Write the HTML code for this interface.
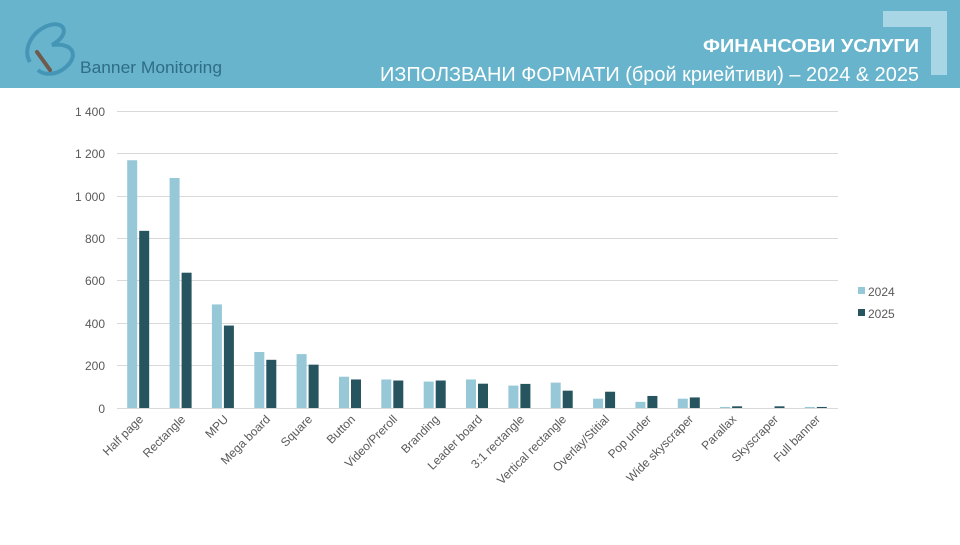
<!DOCTYPE html>
<html><head><meta charset="utf-8"><style>
body{margin:0;width:960px;height:540px;overflow:hidden;background:#fff;font-family:"Liberation Sans",sans-serif}
</style></head><body>
<svg width="960" height="540" xmlns="http://www.w3.org/2000/svg" font-family="Liberation Sans, sans-serif">
<rect x="0" y="0" width="960" height="88" fill="#67b4cc"/>
<path d="M883 11 H947 V75 H931 V27 H883 Z" fill="#a9d6e4"/>
<path d="M30 62 C22 50 32 30 50 25 C66 21 70 35 52 45 C75 42 80 58 62 70 C52 76 42 74 38 70" fill="none" stroke="#3d8fb0" stroke-width="4" opacity="0.8"/>
<path d="M37 52 L50 70" stroke="#6f5a4e" stroke-width="4" stroke-linecap="round"/>
<text x="80" y="73" font-size="16.5" fill="#2f6d86" textLength="142" lengthAdjust="spacingAndGlyphs">Banner Monitoring</text>
<text x="919" y="52" font-size="18" font-weight="bold" fill="#fff" text-anchor="end" textLength="216" lengthAdjust="spacingAndGlyphs">ФИНАНСОВИ УСЛУГИ</text>
<text x="919" y="81" font-size="20" fill="#fff" text-anchor="end" textLength="539" lengthAdjust="spacingAndGlyphs">ИЗПОЛЗВАНИ ФОРМАТИ (брой криейтиви) – 2024 &amp; 2025</text>
<g stroke="#d9d9d9" stroke-width="1">
<line x1="117" x2="838" y1="111.5" y2="111.5"/><line x1="117" x2="838" y1="153.5" y2="153.5"/>
<line x1="117" x2="838" y1="196.5" y2="196.5"/><line x1="117" x2="838" y1="238.5" y2="238.5"/>
<line x1="117" x2="838" y1="280.5" y2="280.5"/><line x1="117" x2="838" y1="323.5" y2="323.5"/>
<line x1="117" x2="838" y1="365.5" y2="365.5"/><line x1="117" x2="838" y1="408.5" y2="408.5"/>
</g>
<g font-size="12" fill="#595959" text-anchor="end">
<text x="105" y="116">1 400</text><text x="105" y="158">1 200</text><text x="105" y="201">1 000</text>
<text x="105" y="243">800</text><text x="105" y="285">600</text><text x="105" y="328">400</text>
<text x="105" y="370">200</text><text x="105" y="413">0</text>
</g>
<g transform="translate(0,408) scale(1,-0.2114)">
<g fill="#96c8d8">
<rect x="127.2" y="0" width="10" height="1172"/><rect x="169.6" y="0" width="10" height="1088"/>
<rect x="211.9" y="0" width="10" height="490"/><rect x="254.3" y="0" width="10" height="265"/>
<rect x="296.6" y="0" width="10" height="255"/><rect x="339" y="0" width="10" height="148"/>
<rect x="381.3" y="0" width="10" height="135"/><rect x="423.7" y="0" width="10" height="125"/>
<rect x="466" y="0" width="10" height="135"/><rect x="508.4" y="0" width="10" height="106"/>
<rect x="550.7" y="0" width="10" height="120"/><rect x="593.1" y="0" width="10" height="44"/>
<rect x="635.4" y="0" width="10" height="29"/><rect x="677.8" y="0" width="10" height="44"/>
<rect x="720.1" y="0" width="10" height="5"/><rect x="804.8" y="0" width="10" height="5"/>
</g>
<g fill="#265560">
<rect x="139.2" y="0" width="10" height="838"/><rect x="181.6" y="0" width="10" height="640"/>
<rect x="223.9" y="0" width="10" height="390"/><rect x="266.3" y="0" width="10" height="228"/>
<rect x="308.6" y="0" width="10" height="205"/><rect x="351" y="0" width="10" height="135"/>
<rect x="393.3" y="0" width="10" height="130"/><rect x="435.7" y="0" width="10" height="130"/>
<rect x="478" y="0" width="10" height="115"/><rect x="520.4" y="0" width="10" height="114"/>
<rect x="562.7" y="0" width="10" height="82"/><rect x="605.1" y="0" width="10" height="77"/>
<rect x="647.4" y="0" width="10" height="57"/><rect x="689.8" y="0" width="10" height="50"/>
<rect x="732.1" y="0" width="10" height="8"/><rect x="774.5" y="0" width="10" height="8"/>
<rect x="816.8" y="0" width="10" height="5"/>
</g>
</g>
<g font-size="12" fill="#595959" text-anchor="end">
<text transform="translate(144,420) rotate(-45)">Half page</text>
<text transform="translate(186,420) rotate(-45)">Rectangle</text>
<text transform="translate(229,420) rotate(-45)">MPU</text>
<text transform="translate(271,420) rotate(-45)">Mega board</text>
<text transform="translate(313,420) rotate(-45)">Square</text>
<text transform="translate(356,420) rotate(-45)">Button</text>
<text transform="translate(398,420) rotate(-45)">Video/Preroll</text>
<text transform="translate(440,420) rotate(-45)">Branding</text>
<text transform="translate(483,420) rotate(-45)">Leader board</text>
<text transform="translate(525,420) rotate(-45)">3:1 rectangle</text>
<text transform="translate(567,420) rotate(-45)">Vertical rectangle</text>
<text transform="translate(610,420) rotate(-45)">Overlay/Stitial</text>
<text transform="translate(652,420) rotate(-45)">Pop under</text>
<text transform="translate(694,420) rotate(-45)">Wide skyscraper</text>
<text transform="translate(737,420) rotate(-45)">Parallax</text>
<text transform="translate(779,420) rotate(-45)">Skyscraper</text>
<text transform="translate(821,420) rotate(-45)">Full banner</text>
</g>
<rect x="858" y="287" width="7" height="7" fill="#96c8d8"/>
<text x="868" y="296" font-size="12" fill="#595959">2024</text>
<rect x="858" y="309" width="7" height="7" fill="#265560"/>
<text x="868" y="318" font-size="12" fill="#595959">2025</text>
</svg>
</body></html>
